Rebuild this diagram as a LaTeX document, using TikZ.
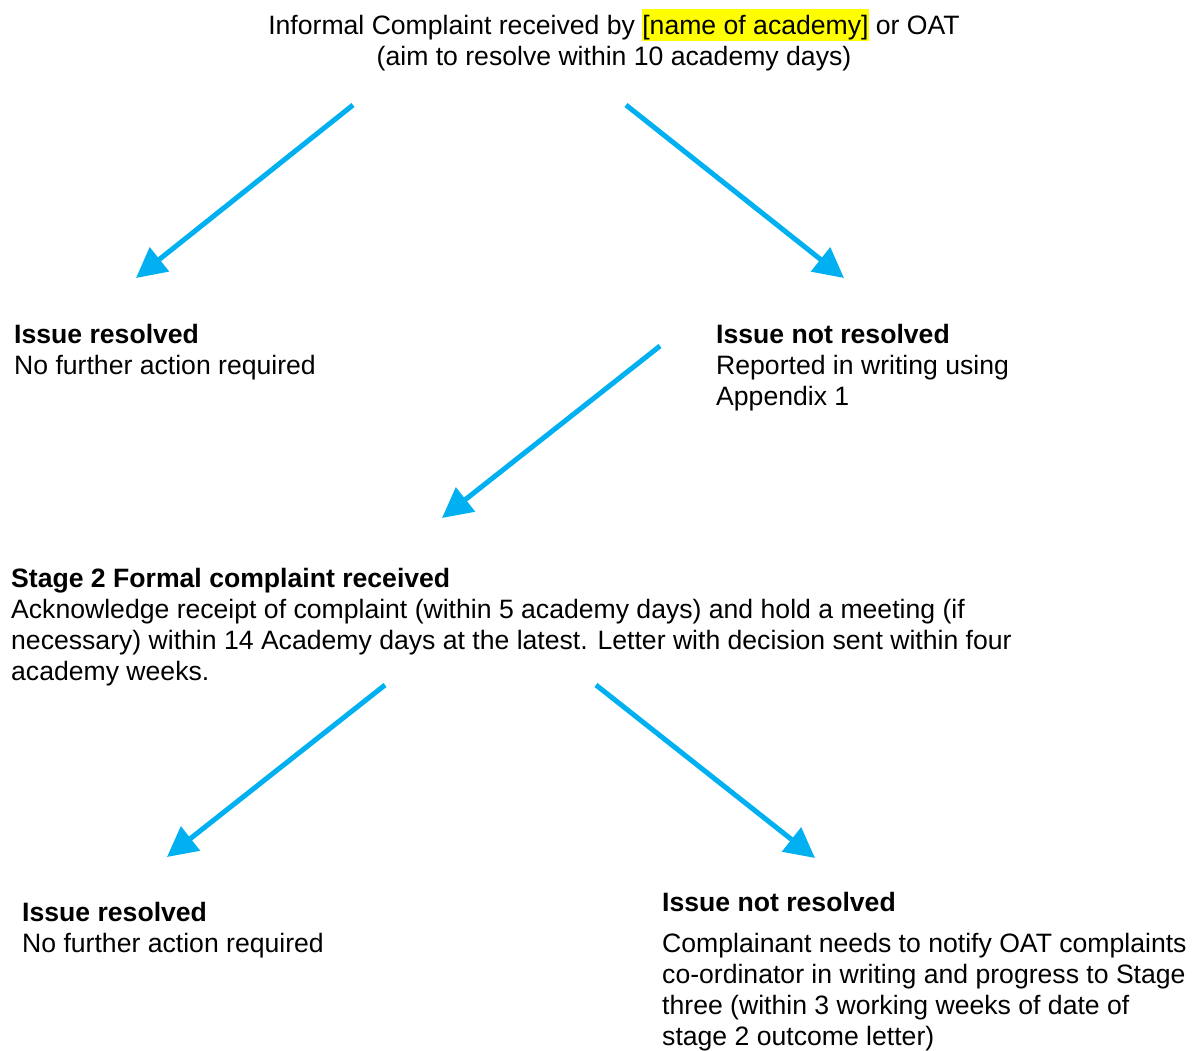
\documentclass[tikz,border=0pt]{standalone}
\usepackage{fontspec}
\setmainfont{Liberation Sans}
\usetikzlibrary{arrows.meta}
\definecolor{arrowblue}{RGB}{0,176,240}
\definecolor{hl}{RGB}{255,255,0}
\begin{document}
\begin{tikzpicture}[x=1pt,y=-1pt,
  txt/.style={inner sep=0pt, align=left, anchor=base west, font=\fontsize{26.6}{31}\selectfont},
  flow/.style={draw=arrowblue, line width=5pt, -{Triangle[length=30pt,width=30pt]}}]
\useasboundingbox (0,0) rectangle (1194,1050);
% base anchor of a multi-line node lies on its last line
\node[txt, align=center, anchor=base] (top) at (614,65)
  {Informal Complaint received by {\fboxsep=0pt\colorbox{hl}{\rule[-7pt]{0pt}{32pt}[name of academy]}} or OAT\\(aim to resolve within 10 academy days)};
\node[txt] (res1) at (14,374) {\textbf{Issue resolved}\\No further action required};
\node[txt] (nres1) at (716,405) {\textbf{Issue not resolved}\\Reported in writing using\\Appendix 1};
\node[txt] (stage2) at (11,680) {\textbf{Stage 2 Formal complaint received}\\
Acknowledge receipt of complaint (within 5 academy days) and hold a meeting (if\\
necessary) within 14 Academy days at the latest. Letter with decision sent within four\\
academy weeks.};
\node[txt] (res2) at (22,952) {\textbf{Issue resolved}\\No further action required};
\node[txt] (nres2t) at (662,911) {\textbf{Issue not resolved}};
\node[txt] (nres2) at (662,1045) {Complainant needs to notify OAT complaints\\
co-ordinator in writing and progress to Stage\\
three (within 3 working weeks of date of\\
stage 2 outcome letter)};
\coordinate (a1s) at (353,105); \coordinate (a1e) at (136,278);
\coordinate (a2s) at (626,105); \coordinate (a2e) at (844,278);
\coordinate (a3s) at (660,346); \coordinate (a3e) at (442,518);
\coordinate (a4s) at (385,685); \coordinate (a4e) at (167,857);
\coordinate (a5s) at (596,685); \coordinate (a5e) at (815,858);
\draw[flow] (a1s) -- (a1e);
\draw[flow] (a2s) -- (a2e);
\draw[flow] (a3s) -- (a3e);
\draw[flow] (a4s) -- (a4e);
\draw[flow] (a5s) -- (a5e);
\end{tikzpicture}
\end{document}
